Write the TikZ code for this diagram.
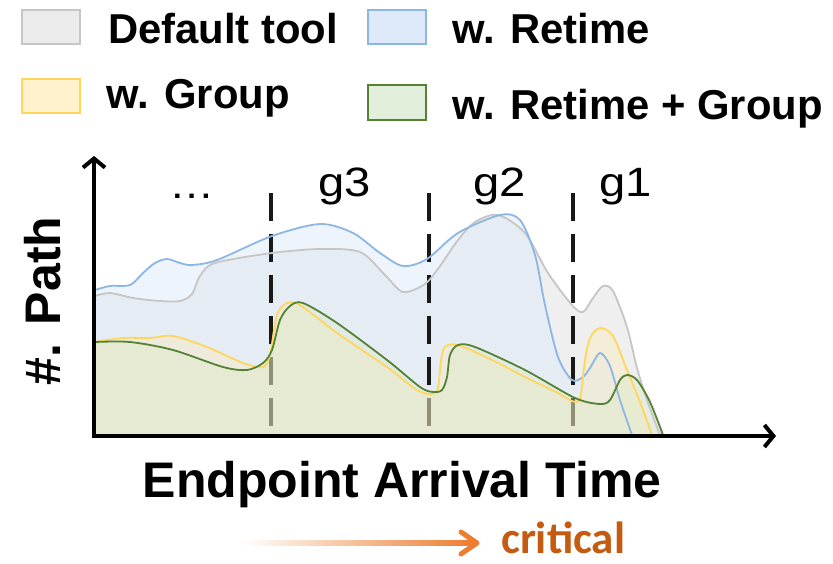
\documentclass[tikz,border=0pt]{standalone}
\usepackage{fontspec}
\setmainfont{Liberation Sans}
\newfontfamily\critfont{Carlito}
\usetikzlibrary{arrows.meta}
\definecolor{gline}{RGB}{198,198,198}
\definecolor{gfill}{RGB}{236,236,236}
\definecolor{bline}{RGB}{140,182,228}
\definecolor{bfill}{RGB}{222,233,250}
\definecolor{yline}{RGB}{255,214,92}
\definecolor{yfill}{RGB}{255,236,175}
\definecolor{yleg}{RGB}{255,242,204}
\definecolor{vline}{RGB}{84,130,53}
\definecolor{vfill}{RGB}{215,232,195}
\definecolor{vleg}{RGB}{226,239,218}
\definecolor{arrorange}{RGB}{237,125,49}
\definecolor{critorange}{RGB}{197,90,17}
\definecolor{dashcol}{RGB}{25,25,25}
\tikzset{
  legbox/.style={line width=1.6pt},
  legtext/.style={anchor=base west, inner sep=0pt, font=\fontsize{41.8}{44}\selectfont\bfseries},
  glabel/.style={anchor=base, inner sep=0pt, font=\fontsize{41}{42}\selectfont},
  curve/.style={line width=1.8pt},
  sep/.style={dashcol, line width=3.6pt, dash pattern=on 28pt off 13pt},
  axis/.style={line width=4.5pt, -{Straight Barb[length=9pt,width=22pt,line width=4pt]}}
}
\begin{document}
\begin{tikzpicture}[x=1pt,y=-1pt]
\useasboundingbox (0,0) rectangle (833,564);
% legend
\draw[legbox, draw=gline, fill=gfill] (22,10) rectangle (80,44);
\node[legtext] (ldef) at (108,44) {Default tool};
\draw[legbox, draw=bline, fill=bfill] (368,10) rectangle (426,44);
\node[legtext] (lret) at (452,44) {w. Retime};
\draw[legbox, draw=yline, fill=yleg] (22,79) rectangle (80,113);
\node[legtext] (lgrp) at (106,109) {w. Group};
\draw[legbox, draw=vline, fill=vleg] (368,85) rectangle (426,120);
\node[legtext] (lrg) at (452,120) {w. Retime + Group};

% gray and blue fills
\fill[gfill, opacity=0.85] plot[smooth, tension=0.5] coordinates {(95,296) (110,293) (133,298) (160,301) (180,301) (192,294) (200,276) (215,263) (272,253) (320,249) (360,252) (385,275) (403,292) (425,284) (440,266) (458,240) (475,222) (498,215) (525,233) (548,273) (572,305) (583,312) (593,298) (603,286) (613,291) (627,327) (637,368) (647,400) (660,435)} -- (95,435) -- cycle;
\fill[bfill, opacity=0.5] plot[smooth, tension=0.5] coordinates {(95,290) (110,286) (130,285) (143,273) (155,263) (167,259) (180,263) (192,265) (217,260) (272,236) (320,224) (353,233) (380,253) (403,266) (427,259) (458,233) (500,215) (520,220) (535,255) (545,305) (558,357) (572,380) (583,377) (590,368) (600,353) (610,366) (620,400) (632,435)} -- (95,435) -- cycle;

% separators
\coordinate (s1t) at (271,193); \coordinate (s1b) at (271,430);
\coordinate (s2t) at (429,193); \coordinate (s2b) at (429,430);
\coordinate (s3t) at (573,193); \coordinate (s3b) at (573,430);
\draw[sep] (s1t) -- (s1b);
\draw[sep] (s2t) -- (s2b);
\draw[sep] (s3t) -- (s3b);

% yellow and green fills
\fill[yfill, opacity=0.35] plot[smooth, tension=0.5] coordinates {(95,342) (123,338) (150,338) (173,336) (207,347) (243,363) (263,367) (270,355) (274,330) (278,312) (287,303) (300,305) (337,333) (387,367) (417,390) (432,394) (438,388) (441,360) (445,347) (458,345) (492,360) (525,377) (558,393) (572,401) (580,398) (585,360) (590,338) (600,328) (613,336) (627,370) (640,402) (652,435)} -- (95,435) -- cycle;
\fill[vfill, opacity=0.35] plot[smooth, tension=0.5] coordinates {(95,342) (130,342) (173,350) (223,367) (247,370) (263,363) (272,350) (280,320) (290,306) (303,303) (337,323) (387,360) (420,387) (433,392) (442,390) (447,377) (450,355) (458,345) (475,347) (525,370) (575,398) (600,404) (610,400) (620,380) (627,375) (637,380) (650,402) (663,435)} -- (95,435) -- cycle;

% strokes
\draw[curve, gline] plot[smooth, tension=0.5] coordinates {(95,296) (110,293) (133,298) (160,301) (180,301) (192,294) (200,276) (215,263) (272,253) (320,249) (360,252) (385,275) (403,292) (425,284) (440,266) (458,240) (475,222) (498,215) (525,233) (548,273) (572,305) (583,312) (593,298) (603,286) (613,291) (627,327) (637,368) (647,400) (660,435)};
\draw[curve, bline] plot[smooth, tension=0.5] coordinates {(95,290) (110,286) (130,285) (143,273) (155,263) (167,259) (180,263) (192,265) (217,260) (272,236) (320,224) (353,233) (380,253) (403,266) (427,259) (458,233) (500,215) (520,220) (535,255) (545,305) (558,357) (572,380) (583,377) (590,368) (600,353) (610,366) (620,400) (632,435)};
\draw[curve, yline] plot[smooth, tension=0.5] coordinates {(95,342) (123,338) (150,338) (173,336) (207,347) (243,363) (263,367) (270,355) (274,330) (278,312) (287,303) (300,305) (337,333) (387,367) (417,390) (432,394) (438,388) (441,360) (445,347) (458,345) (492,360) (525,377) (558,393) (572,401) (580,398) (585,360) (590,338) (600,328) (613,336) (627,370) (640,402) (652,435)};
\draw[curve, vline] plot[smooth, tension=0.5] coordinates {(95,342) (130,342) (173,350) (223,367) (247,370) (263,363) (272,350) (280,320) (290,306) (303,303) (337,323) (387,360) (420,387) (433,392) (442,390) (447,377) (450,355) (458,345) (475,347) (525,370) (575,398) (600,404) (610,400) (620,380) (627,375) (637,380) (650,402) (663,435)};

% axes
\coordinate (origin) at (94,436);
\coordinate (ytop) at (94,156);
\coordinate (xend) at (776,436);
\draw[axis] (94,438) -- (ytop);
\draw[axis] (92,436) -- (xend);

% group labels
\node[glabel] (dots) at (192,199) {\scalebox{1.1}[1]{…}};
\node[glabel] (g3) at (345,197) {\scalebox{1.15}[1]{g3}};
\node[glabel] (g2) at (500,197) {\scalebox{1.15}[1]{g2}};
\node[glabel] (g1) at (626,197) {\scalebox{1.15}[1]{g1}};

% axis labels
\node[anchor=base, rotate=90, inner sep=0pt, font=\fontsize{50}{52}\selectfont\bfseries] (ylab) at (60,301) {\#. Path};
\node[anchor=base, inner sep=0pt, font=\fontsize{50}{52}\selectfont\bfseries] (xlab) at (402,497) {Endpoint Arrival Time};

% critical arrow
\shade[left color=white, right color=arrorange] (243,540.5) rectangle (472,545.5);
\coordinate (ahtop) at (461,532);
\coordinate (ahtip) at (477,543);
\coordinate (ahbot) at (461,554);
\draw[arrorange, line width=5pt, line cap=round, line join=round] (ahtop) -- (ahtip) -- (ahbot);
\node[anchor=base west, inner sep=0pt, text=critorange, font=\fontsize{45}{46}\critfont\bfseries] (crit) at (501,553) {critical};
\end{tikzpicture}
\end{document}
